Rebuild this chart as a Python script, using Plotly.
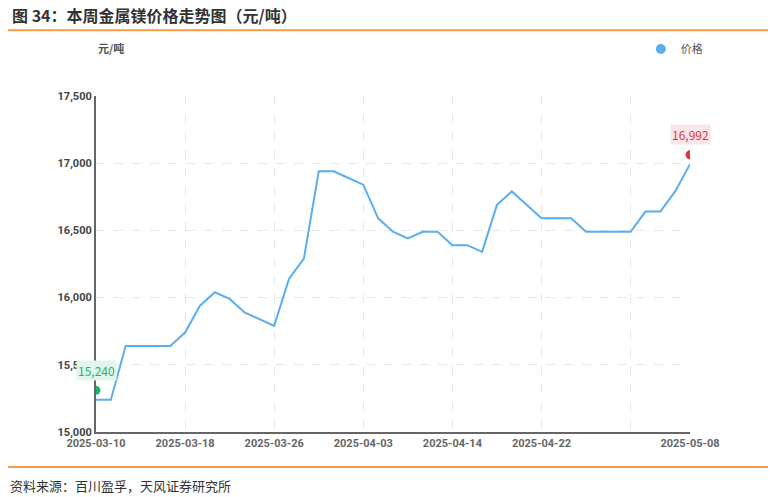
import plotly.graph_objects as go

dates = ["2025-03-10", "2025-03-11", "2025-03-12", "2025-03-13", "2025-03-14",
         "2025-03-17", "2025-03-18", "2025-03-19", "2025-03-20", "2025-03-21",
         "2025-03-24", "2025-03-25", "2025-03-26", "2025-03-27", "2025-03-28",
         "2025-03-31", "2025-04-01", "2025-04-02", "2025-04-03", "2025-04-07",
         "2025-04-08", "2025-04-09", "2025-04-10", "2025-04-11", "2025-04-14",
         "2025-04-15", "2025-04-16", "2025-04-17", "2025-04-18", "2025-04-21",
         "2025-04-22", "2025-04-23", "2025-04-24", "2025-04-25", "2025-04-27",
         "2025-04-28", "2025-04-29", "2025-04-30", "2025-05-06", "2025-05-07",
         "2025-05-08"]
prices = [15240, 15240, 15640, 15640, 15640, 15640, 15740, 15940, 16040, 15990,
          15890, 15840, 15790, 16140, 16290, 16940, 16940, 16890, 16840, 16590,
          16490, 16440, 16490, 16490, 16390, 16390, 16340, 16690, 16790, 16690,
          16590, 16590, 16590, 16490, 16490, 16490, 16490, 16640, 16640, 16790,
          16992]
tick_dates = ["2025-03-10", "2025-03-18", "2025-03-26", "2025-04-03", "2025-04-14",
              "2025-04-22", "2025-04-29", "2025-05-08"]
tick_labels = ["2025-03-10", "2025-03-18", "2025-03-26", "2025-04-03", "2025-04-14",
               "2025-04-22", "", "2025-05-08"]

fig = go.Figure()
fig.add_trace(go.Scatter(x=dates, y=prices, mode="lines", name="价格", showlegend=False,
                         line=dict(color="#5AAEF0", width=2)))
# legend entry (dot only)
fig.add_trace(go.Scatter(x=[None], y=[None], mode="markers", name="价格",
                         marker=dict(color="#5AAEF0", size=10)))

# max / min markers
i_max = prices.index(max(prices))
i_min = prices.index(min(prices))
fig.add_trace(go.Scatter(x=[dates[i_max]], y=[prices[i_max] + 70], mode="markers",
                         marker=dict(color="#D9363E", size=11, symbol="circle",
                                     line=dict(color="white", width=2)),
                         showlegend=False, hoverinfo="skip"))
fig.add_trace(go.Scatter(x=[dates[i_min]], y=[prices[i_min] + 70], mode="markers",
                         marker=dict(color="#1DB46A", size=11, symbol="circle",
                                     line=dict(color="white", width=2)),
                         showlegend=False, hoverinfo="skip"))
fig.add_annotation(x=dates[i_max], y=prices[i_max] + 70, text=f"{prices[i_max]:,}",
                   showarrow=False, yshift=20, bgcolor="#FBE6E7",
                   font=dict(color="#D9363E", size=12))
fig.add_annotation(x=dates[i_min], y=prices[i_min] + 70, text=f"{prices[i_min]:,}",
                   showarrow=False, yshift=20, bgcolor="#E3F5EA",
                   font=dict(color="#1DB46A", size=12))

# header / footer
fig.add_annotation(xref="paper", yref="paper", x=-0.145, y=1.241, xanchor="left",
                   yanchor="middle", text="<b>图 34：本周金属镁价格走势图（元/吨）</b>",
                   showarrow=False, font=dict(size=16, color="#333"))
fig.add_shape(type="line", xref="paper", yref="paper", x0=-0.148, x1=1.135,
              y0=1.196, y1=1.196, line=dict(color="#F29A4A", width=2))
fig.add_shape(type="line", xref="paper", yref="paper", x0=-0.148, x1=1.135,
              y0=-0.104, y1=-0.104, line=dict(color="#F29A4A", width=2))
fig.add_annotation(xref="paper", yref="paper", x=-0.148, y=-0.158, xanchor="left",
                   yanchor="middle", text="资料来源：百川盈孚，天风证券研究所",
                   showarrow=False, font=dict(size=13, color="#333"))
fig.add_annotation(xref="paper", yref="paper", x=0.0, y=1.143, xanchor="left",
                   yanchor="middle", text="<b>元/吨</b>", showarrow=False,
                   font=dict(size=11, color="#555"))

fig.update_layout(
    width=776, height=497,
    margin=dict(l=88, r=94, t=88, b=73),
    plot_bgcolor="white", paper_bgcolor="white",
    font=dict(family="Noto Sans CJK SC, Noto Sans, sans-serif", color="#555"),
    legend=dict(x=1.03, y=1.14, xanchor="right", yanchor="middle",
                bgcolor="rgba(0,0,0,0)", font=dict(size=11, color="#555")),
)
fig.update_xaxes(type="category", tickmode="array", tickvals=tick_dates,
                 ticktext=tick_labels, showgrid=True, gridcolor="#E3E7F0",
                 griddash="dash", showline=True, linecolor="#666", linewidth=2,
                 ticks="", range=[0, 40],
                 tickfont=dict(family="Roboto", size=11, color="#666", weight="bold"))
fig.update_yaxes(range=[15000, 17500], tickvals=[15000, 15500, 16000, 16500, 17000, 17500],
                 tickformat=",", showgrid=True, gridcolor="#E3E7F0", griddash="dash",
                 showline=True, linecolor="#666", linewidth=2, zeroline=False, ticks="",
                 tickfont=dict(family="Roboto", size=11, color="#444", weight="bold"))

fig.write_html("out.html")
